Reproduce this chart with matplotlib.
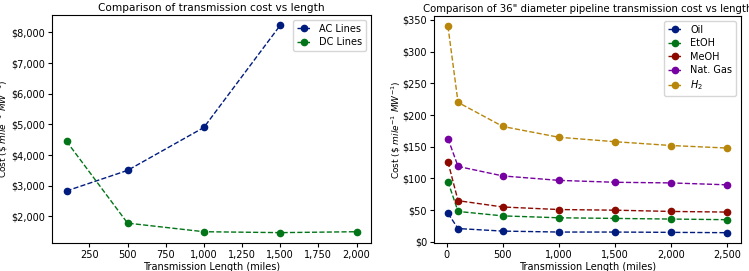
import numpy as np
import matplotlib.pyplot as plt
from matplotlib.ticker import FuncFormatter

# electric lines
elec_len_ac = [100, 500, 1000, 1500]
ac_cost = [2830, 3500, 4900, 8230]
elec_len_dc = [100, 500, 1000, 1500, 2000]
dc_cost = [4450, 1780, 1500, 1470, 1500]

# 36" pipelines
pipe_len = [10, 100, 500, 1000, 1500, 2000, 2500]
oil = [45, 21, 17, 15.5, 15.5, 15, 14.5]
etoh = [95, 48, 41, 38, 37, 36, 35]
meoh = [126, 65, 55, 51, 50, 48, 47]
natgas = [163, 119, 104, 97, 94, 93, 90]
h2 = [340, 220, 182, 165, 158, 152, 148]

pipe_names = ['Oil', 'EtOH', 'MeOH', 'Nat. Gas', '$H_2$']
pipe_vals = [oil, etoh, meoh, natgas, h2]
cols = ['#001C7F', '#017517', '#8C0900', '#7600A1', '#B8860B']

fs = 7
dollars = FuncFormatter(lambda v, p: '${:,.0f}'.format(v))
commas = FuncFormatter(lambda v, p: '{:,.0f}'.format(v))

fig = plt.figure(figsize=(7.49, 2.71), dpi=100)
ax1 = fig.add_axes([52/749, 28/271, 319/749, 228/271])
ax2 = fig.add_axes([434/749, 28/271, 307/749, 227/271])

ax1.plot(elec_len_ac, ac_cost, '--o', c=cols[0], lw=1, ms=4.5, label='AC Lines')
ax1.plot(elec_len_dc, dc_cost, '--o', c=cols[1], lw=1, ms=4.5, label='DC Lines')
ax1.set_title('Comparison of transmission cost vs length', fontsize=7.6, pad=3)
ax1.set_xlabel('Transmission Length (miles)', fontsize=fs)
ax1.set_ylabel('Cost (\\$ $mile^{-1}$ $MW^{-1}$)', fontsize=fs-0.5)
ax1.yaxis.set_label_coords(-0.133, 0.5)
ax1.xaxis.set_label_coords(0.5, -0.085)
ax1.xaxis.set_major_formatter(commas)
ax1.yaxis.set_major_formatter(dollars)
ax1.set_xticks(np.arange(250, 2001, 250))
ax1.tick_params(labelsize=fs, length=3, pad=2)
ax1.legend(loc='upper right', fontsize=fs, handlelength=1.5, labelspacing=0.35)

for name, vals, c in zip(pipe_names, pipe_vals, cols):
    ax2.plot(pipe_len, vals, '--o', c=c, lw=1, ms=4.5, label=name)
ax2.set_title('Comparison of 36" diameter pipeline transmission cost vs length', fontsize=7.3, pad=3)
ax2.set_xlabel('Transmission Length (miles)', fontsize=fs)
ax2.set_ylabel('Cost (\\$ $mile^{-1}$ $MW^{-1}$)', fontsize=fs-0.5)
ax2.yaxis.set_label_coords(-0.1, 0.5)
ax2.xaxis.set_label_coords(0.5, -0.085)
ax2.xaxis.set_major_formatter(commas)
ax2.yaxis.set_major_formatter(dollars)
ax2.set_xticks(np.arange(0, 2501, 500))
ax2.tick_params(labelsize=fs, length=3, pad=2)
ax2.legend(loc='upper right', fontsize=fs, handlelength=1.5, labelspacing=0.35)

plt.savefig('out.png', dpi=100)
